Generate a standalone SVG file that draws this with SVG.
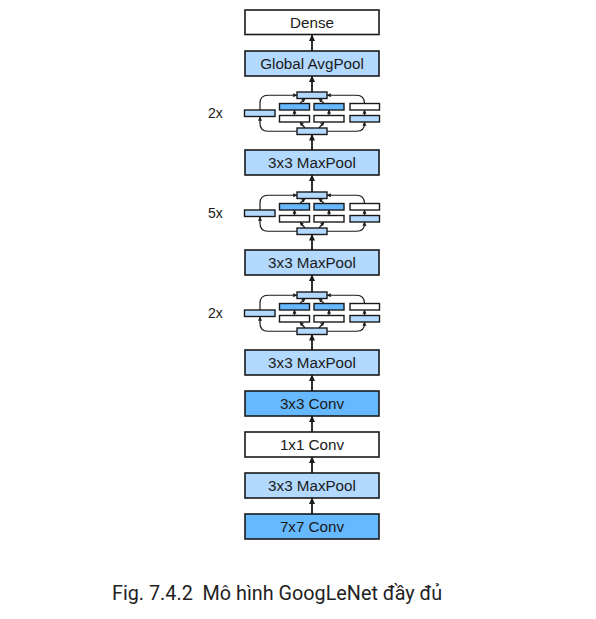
<svg xmlns="http://www.w3.org/2000/svg" xmlns:xlink="http://www.w3.org/1999/xlink" width="596" height="619" viewBox="0 0 596 619">
<style>
.box{stroke:#1a1a1a;stroke-width:1.6}
.sb{stroke:#1a1a1a;stroke-width:1.4}
.w{fill:#ffffff}
.l{fill:#b3d9ff}
.d{fill:#66b8ff}
.t{font-family:"Liberation Sans",Arial,sans-serif;font-size:15.2px;fill:#1a1a1a;text-anchor:middle}
.rep{font-family:"Liberation Sans",Arial,sans-serif;font-size:14px;fill:#1a1a1a}
.cap{font-family:Roboto,"Noto Sans",sans-serif;font-size:19.8px;fill:#222;white-space:pre}
.a{stroke:#1a1a1a;stroke-width:1.8;fill:none;marker-end:url(#ah)}
.s{stroke:#1a1a1a;stroke-width:1.2;fill:none;marker-end:url(#sh)}
</style>
<defs>
<marker id="ah" markerUnits="userSpaceOnUse" markerWidth="7" markerHeight="7" refX="6" refY="3.5" orient="auto">
<path d="M0,0.5 L6.5,3.5 L0,6.5 z" fill="#1a1a1a"/>
</marker>
<marker id="sh" markerUnits="userSpaceOnUse" markerWidth="4.5" markerHeight="4.5" refX="3.8" refY="2.2" orient="auto">
<path d="M0,0.2 L4.2,2.2 L0,4.2 z" fill="#1a1a1a"/>
</marker>
<g id="incep">
<g class="conn">
<path class="s" d="M297,131.25 H268 Q260,131.25 260,123.25 V117"/>
<path class="s" d="M260,110 V103.25 Q260,95.25 268,95.25 H297"/>
<path class="s" d="M327,131.25 H356.5 Q364.5,131.25 364.5,123.5 V122"/>
<path class="s" d="M364.5,103.5 Q364.5,95.25 356.5,95.25 H327"/>
<path class="s" d="M305,128 L300,122"/>
<path class="s" d="M319,128 L324,122"/>
<path class="s" d="M294.5,115.5 V110"/>
<path class="s" d="M329,115.5 V110"/>
<path class="s" d="M364.5,115.5 V110"/>
<path class="s" d="M300,103.5 L305,98.5"/>
<path class="s" d="M324,103.5 L319,98.5"/>
</g>
<rect class="sb l" x="297" y="92" width="30" height="6.5"/>
<rect class="sb l" x="244.5" y="110" width="30.5" height="6.5"/>
<rect class="sb d" x="279.5" y="103.5" width="30" height="6.5"/>
<rect class="sb d" x="314" y="103.5" width="30" height="6.5"/>
<rect class="sb w" x="350" y="103.5" width="29.5" height="6.5"/>
<rect class="sb w" x="279.5" y="115.5" width="30" height="6.5"/>
<rect class="sb w" x="314" y="115.5" width="30" height="6.5"/>
<rect class="sb l" x="350" y="115.5" width="29.5" height="6.5"/>
<rect class="sb l" x="297" y="128" width="30" height="6.5"/>
</g>
</defs>
<rect x="0" y="0" width="596" height="619" fill="#ffffff"/>
<g id="connectors">
<line class="a" x1="312" y1="51" x2="312" y2="35"/>
<line class="a" x1="312" y1="92" x2="312" y2="76"/>
<line class="a" x1="312" y1="150" x2="312" y2="134.5"/>
<line class="a" x1="312" y1="192" x2="312" y2="175"/>
<line class="a" x1="312" y1="250" x2="312" y2="234.5"/>
<line class="a" x1="312" y1="292" x2="312" y2="275"/>
<line class="a" x1="312" y1="350" x2="312" y2="334.5"/>
<line class="a" x1="312" y1="391" x2="312" y2="375"/>
<line class="a" x1="312" y1="432" x2="312" y2="416"/>
<line class="a" x1="312" y1="473" x2="312" y2="457"/>
<line class="a" x1="312" y1="514" x2="312" y2="498"/>
</g>
<g id="dense"><rect class="box w" x="245" y="10" width="134" height="24.5"/><text class="t" x="312" y="27.5">Dense</text></g>
<g id="gap"><rect class="box l" x="245" y="51" width="134" height="25"/><text class="t" x="312" y="68.5">Global AvgPool</text></g>
<g id="inception-3"><use xlink:href="#incep"/><text class="rep" x="208" y="118">2x</text></g>
<g id="maxpool-4"><rect class="box l" x="245" y="150" width="134" height="25"/><text class="t" x="312" y="167.5">3x3 MaxPool</text></g>
<g id="inception-2"><use xlink:href="#incep" transform="translate(0,100)"/><text class="rep" x="208" y="218">5x</text></g>
<g id="maxpool-3"><rect class="box l" x="245" y="250" width="134" height="25"/><text class="t" x="312" y="267.5">3x3 MaxPool</text></g>
<g id="inception-1"><use xlink:href="#incep" transform="translate(0,200)"/><text class="rep" x="208" y="318">2x</text></g>
<g id="maxpool-2"><rect class="box l" x="245" y="350" width="134" height="25"/><text class="t" x="312" y="367.5">3x3 MaxPool</text></g>
<g id="conv3"><rect class="box d" x="245" y="391" width="134" height="25"/><text class="t" x="312" y="408.5">3x3 Conv</text></g>
<g id="conv1"><rect class="box w" x="245" y="432" width="134" height="25"/><text class="t" x="312" y="449.5">1x1 Conv</text></g>
<g id="maxpool-1"><rect class="box l" x="245" y="473" width="134" height="25"/><text class="t" x="312" y="490.5">3x3 MaxPool</text></g>
<g id="conv7"><rect class="box d" x="245" y="514" width="134" height="25"/><text class="t" x="312" y="531.5">7x7 Conv</text></g>
<text class="cap" x="112" y="600" xml:space="preserve">Fig. 7.4.2  Mô hình GoogLeNet đầy đủ</text>
</svg>
